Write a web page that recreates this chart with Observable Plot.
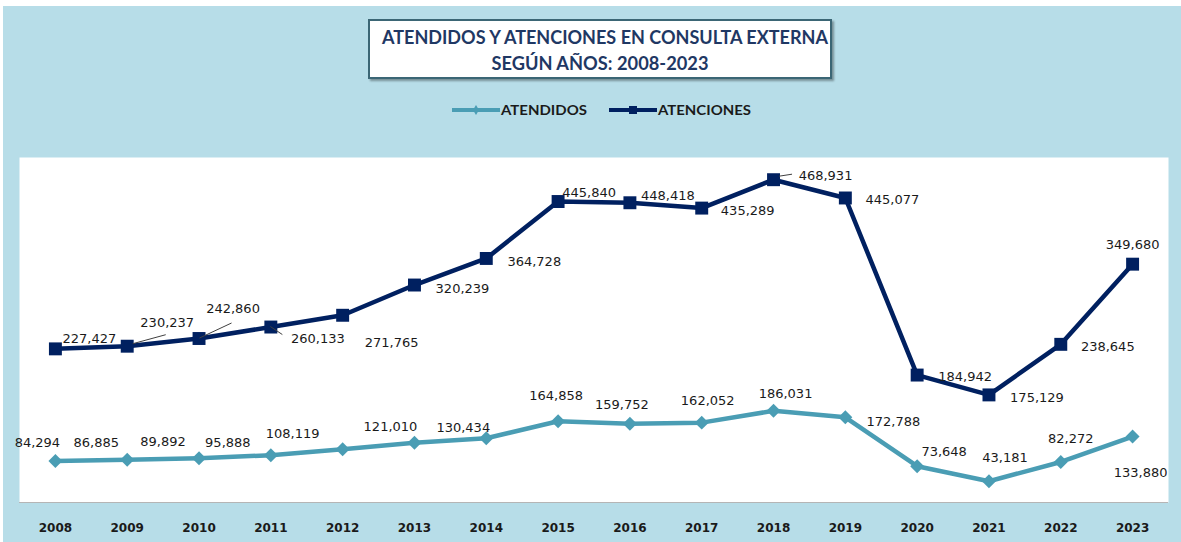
<!DOCTYPE html>
<html>
<head>
<meta charset="utf-8">
<script src="https://cdn.jsdelivr.net/npm/d3@7"></script>
<script src="https://cdn.jsdelivr.net/npm/@observablehq/plot@0.6"></script>
<style>
  body { margin:0; background:#fff; width:1181px; height:542px; overflow:hidden; position:relative; }
  #bg { position:absolute; left:3px; top:6px; width:1178px; height:536px; background:#b7dde8; }
  #title { position:absolute; left:368px; top:19px; width:460px; height:56px; border:2px solid #3b6675;
           background:#fff; box-shadow:2px 2px 2px rgba(0,0,0,0.35); }
  .tl { position:absolute; left:0; width:460px; text-align:center; font-family:Lato, sans-serif; font-weight:700;
        font-size:19px; color:#1f3864; line-height:20px; white-space:nowrap; }
  .tl span { display:inline-block; transform-origin:center center; }
  .leg { position:absolute; top:102px; height:16px; }
  .leg svg { position:absolute; left:0; top:0; }
  .leg span { position:absolute; top:0; font-family:Lato, sans-serif; font-weight:700; font-size:14px; line-height:16px;
              color:#1a1a1a; white-space:nowrap; transform-origin:left center; }
  #chart { position:absolute; left:3px; top:150px; }
</style>
</head>
<body>
<div id="bg"></div>
<div id="title">
  <div class="tl" style="top:6px"><span id="t1">ATENDIDOS Y ATENCIONES EN CONSULTA EXTERNA</span></div>
  <div class="tl" style="top:32px"><span id="t2">SEGÚN AÑOS: 2008-2023</span></div>
</div>
<div class="leg" id="leg1" style="left:452px"></div>
<div class="leg" id="leg2" style="left:609px"></div>
<div id="chart"></div>
<script>
// ---- data ----
const years = ["2008","2009","2010","2011","2012","2013","2014","2015","2016","2017","2018","2019","2020","2021","2022","2023"];
const atendidos = [84294, 86885, 89892, 95888, 108119, 121010, 130434, 164858, 159752, 162052, 186031, 172788, 73648, 43181, 82272, 133880];
const atenciones = [227427, 230237, 242860, 260133, 271765, 320239, 364728, 445840, 448418, 435289, 468931, 445077, 184942, 175129, 238645, 349680];
const seriesNames = ["ATENDIDOS", "ATENCIONES"];
const titleLines = ["ATENDIDOS Y ATENCIONES EN CONSULTA EXTERNA", "SEGÚN AÑOS: 2008-2023"];

// label offsets (pixels, layout only)
const dxAtendidos = [-18, -31, -36, -43, -50, -24, -23, -2, -8, 6, 12, 48, 27, 16, 10, 8];
const dyAtendidos = [-18, -17, -16, -12, -15, -16, -10, -25, -19, -22, -17, 4, -14, -23, -23, 36];
const dxAtenciones = [34, 40, 34, 47, 49, 48, 48, 31, 38, 46, 52, 47, 48, 48, 47, 0];
const dyAtenciones = [-10, -23, -30, 12, 28, 4, 3, -9, -7, 3, -4, 2, 2, 3, 2, -19];
// leader lines: [index, x1, y1, x2, y2] pixel offsets from the point
const leaderLines = [[1, 6, -2, 39, -11], [2, 1, 0, 33, -15], [3, 0, 0, 12, 8], [10, 6, -3, 19, -5]];

const cTeal = "#4a9db4";
const cNavy = "#002060";
const fmt = d3.format(",");

// stacked (cumulative) table, like the original stacked line chart
const rows = years.map((yr, i) => ({
  year: yr, i,
  a: atendidos[i], b: atenciones[i],
  top: atendidos[i] + atenciones[i]
}));

function fitText(el, w) {
  const cur = el.getBoundingClientRect().width;
  if (cur > 0) el.style.transform = `scaleX(${w / cur})`;
}

// legend
function legendItem(id, color, symbol, text, textWidth) {
  const host = document.getElementById(id);
  const s = d3.select(host).append("svg").attr("width", 48).attr("height", 16);
  s.append("line").attr("x1", 0).attr("x2", 48).attr("y1", 8).attr("y2", 8).attr("stroke", color).attr("stroke-width", 4);
  if (symbol === "square") s.append("rect").attr("x", 20).attr("y", 4).attr("width", 8).attr("height", 8).attr("fill", color);
  else s.append("path").attr("d", "M24,3L27,8L24,13L21,8Z").attr("fill", color);
  const sp = document.createElement("span");
  sp.textContent = text; sp.style.left = "49px";
  host.appendChild(sp);
  fitText(sp, textWidth);
}

function leaders(index, scales) {
  const g = d3.create("svg:g").attr("stroke", "#404040").attr("stroke-width", 1);
  for (const [i, x1, y1, x2, y2] of leaderLines) {
    const px = scales.x(years[i]), py = scales.y(atendidos[i] + atenciones[i]);
    g.append("line").attr("x1", px + x1).attr("y1", py + y1).attr("x2", px + x2).attr("y2", py + y2);
  }
  return g.node();
}

const labelStyle = {fontFamily: "DejaVu Sans, Verdana, sans-serif", fontSize: 13, fill: "#1a1a1a", textAnchor: "middle"};
const labelMarks = [];
rows.forEach((r, i) => {
  labelMarks.push(Plot.text([r], {x: "year", y: "a", text: d => fmt(d.a), dx: dxAtendidos[i], dy: dyAtendidos[i], ...labelStyle}));
  labelMarks.push(Plot.text([r], {x: "year", y: "top", text: d => fmt(d.b), dx: dxAtenciones[i], dy: dyAtenciones[i], ...labelStyle}));
});

const chart = Plot.plot({
  width: 1178, height: 392,
  marginLeft: 16, marginRight: 13, marginTop: 7, marginBottom: 40,
  style: {background: "transparent", overflow: "visible"},
  x: {type: "point", domain: years, padding: 0.5, round: false, label: null},
  y: {domain: [0, 700000], axis: null},
  marks: [
    Plot.frame({fill: "white", stroke: null}),
    Plot.ruleY([0], {stroke: "#b5b5b5", strokeWidth: 1.2}),
    Plot.axisX({tickSize: 0, tickPadding: 21, fontSize: 12, fontWeight: "bold", fontFamily: "DejaVu Sans, Verdana, sans-serif", fill: "#1a1a1a", label: null}),
    Plot.line(rows, {x: "year", y: "a", stroke: cTeal, strokeWidth: 4.5}),
    Plot.line(rows, {x: "year", y: "top", stroke: cNavy, strokeWidth: 4.5}),
    Plot.dot(rows, {x: "year", y: "a", symbol: "diamond2", r: 6.3, fill: cTeal, stroke: null}),
    Plot.dot(rows, {x: "year", y: "top", symbol: "square", r: 7.3, fill: cNavy, stroke: null}),
    leaders,
    ...labelMarks
  ]
});
document.getElementById("chart").appendChild(chart);

document.getElementById("t1").textContent = titleLines[0];
document.getElementById("t2").textContent = titleLines[1];
fitText(document.getElementById("t1"), 446);
fitText(document.getElementById("t2"), 217);
legendItem("leg1", cTeal, "diamond", seriesNames[0], 86);
legendItem("leg2", cNavy, "square", seriesNames[1], 93);
</script>
</body>
</html>
